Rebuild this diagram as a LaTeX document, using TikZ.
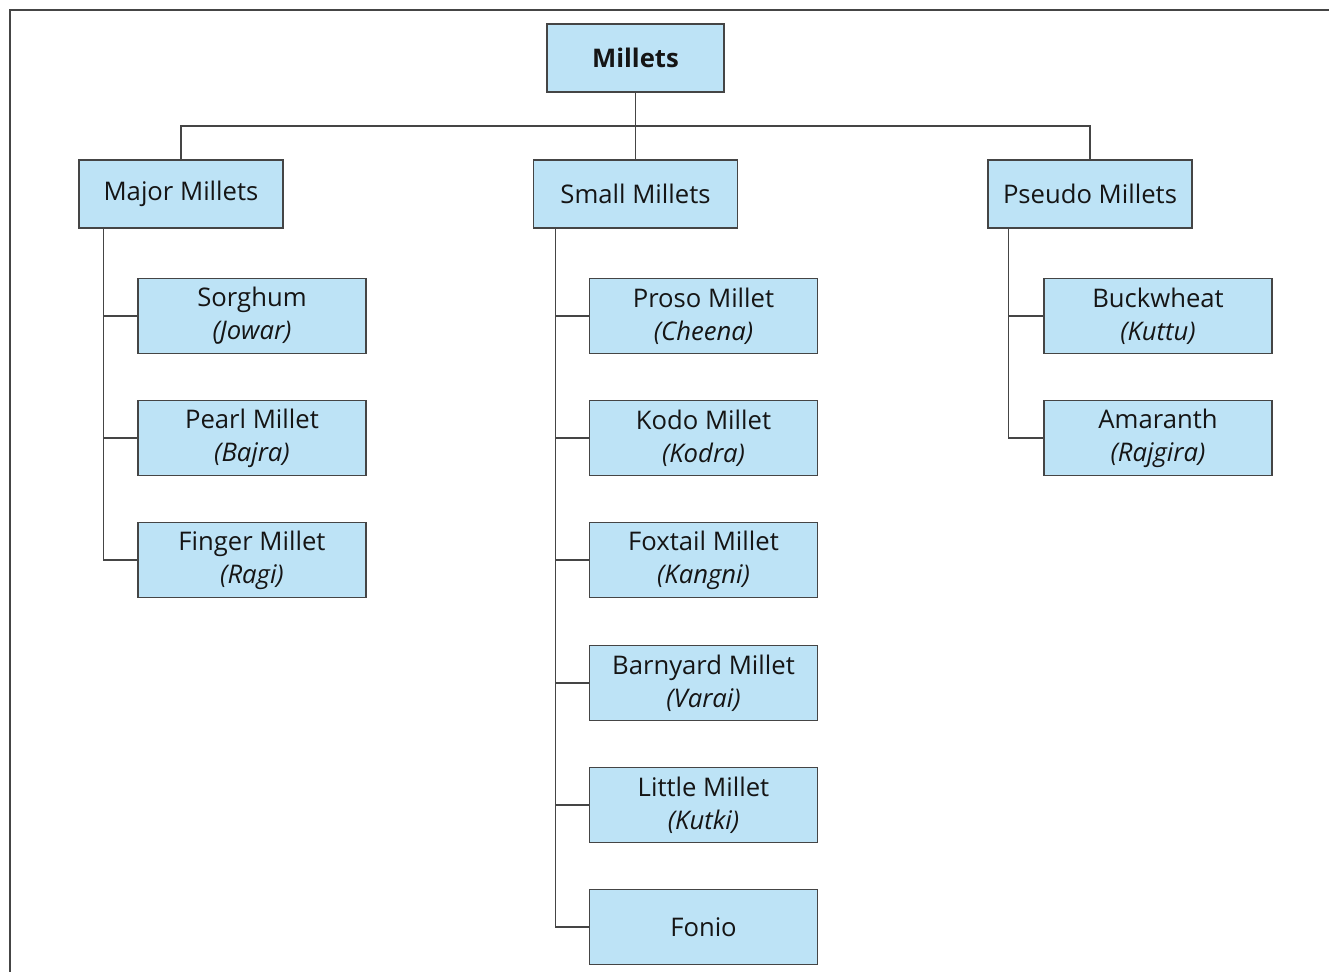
\documentclass[tikz,border=0pt]{standalone}
\usepackage{fontspec}
\setmainfont{Open Sans}
\definecolor{boxfill}{HTML}{BDE3F6}
\definecolor{boxline}{HTML}{454545}
\definecolor{txt}{HTML}{151515}
\begin{document}
\begin{tikzpicture}[x=0.02cm,y=-0.02cm,
  box/.style={draw=boxline,fill=boxfill,line width=0.9pt,text=txt,align=center,inner sep=0pt,font=\fontsize{14.6}{18.7}\selectfont},
  rootbox/.style={box,minimum width=3.54cm,minimum height=1.36cm,font=\fontsize{14.6}{18.7}\selectfont\bfseries},
  catbox/.style={box,minimum width=4.08cm,minimum height=1.36cm},
  leafbox/.style={box,minimum width=4.56cm,minimum height=1.5cm},
  conn/.style={draw=boxline,line width=0.8pt}]
\useasboundingbox (0,0) rectangle (1329,972);
\draw[conn] (10,975) -- (10,10) -- (1332,10);

\node[rootbox] (root) at (635.5,58) {Millets};
\node[catbox] (maj) at (181,194) {Major Millets};
\node[catbox] (sml) at (635.5,194) {Small Millets};
\node[catbox] (pse) at (1090,194) {Pseudo Millets};

\node[leafbox] (m1) at (252,316) {Sorghum\\\itshape(Jowar)};
\node[leafbox] (m2) at (252,438) {Pearl Millet\\\itshape(Bajra)};
\node[leafbox] (m3) at (252,560) {Finger Millet\\\itshape(Ragi)};

\node[leafbox] (s1) at (703.5,316) {Proso Millet\\\itshape(Cheena)};
\node[leafbox] (s2) at (703.5,438) {Kodo Millet\\\itshape(Kodra)};
\node[leafbox] (s3) at (703.5,560) {Foxtail Millet\\\itshape(Kangni)};
\node[leafbox] (s4) at (703.5,683) {Barnyard Millet\\\itshape(Varai)};
\node[leafbox] (s5) at (703.5,805) {Little Millet\\\itshape(Kutki)};
\node[leafbox] (s6) at (703.5,927) {Fonio};

\node[leafbox] (p1) at (1158,316) {Buckwheat\\\itshape(Kuttu)};
\node[leafbox] (p2) at (1158,438) {Amaranth\\\itshape(Rajgira)};

\coordinate (bus) at (635.5,126);
\draw[conn] (root.south) -- (sml.north);
\draw[conn] (maj.north) |- (bus) -| (pse.north);

\draw[conn] ([xshift=0.5cm]maj.south west) |- (m1.west);
\draw[conn] ([xshift=0.5cm]maj.south west) |- (m2.west);
\draw[conn] ([xshift=0.5cm]maj.south west) |- (m3.west);

\draw[conn] ([xshift=0.46cm]sml.south west) |- (s1.west);
\draw[conn] ([xshift=0.46cm]sml.south west) |- (s2.west);
\draw[conn] ([xshift=0.46cm]sml.south west) |- (s3.west);
\draw[conn] ([xshift=0.46cm]sml.south west) |- (s4.west);
\draw[conn] ([xshift=0.46cm]sml.south west) |- (s5.west);
\draw[conn] ([xshift=0.46cm]sml.south west) |- (s6.west);

\draw[conn] ([xshift=0.42cm]pse.south west) |- (p1.west);
\draw[conn] ([xshift=0.42cm]pse.south west) |- (p2.west);
\end{tikzpicture}
\end{document}
